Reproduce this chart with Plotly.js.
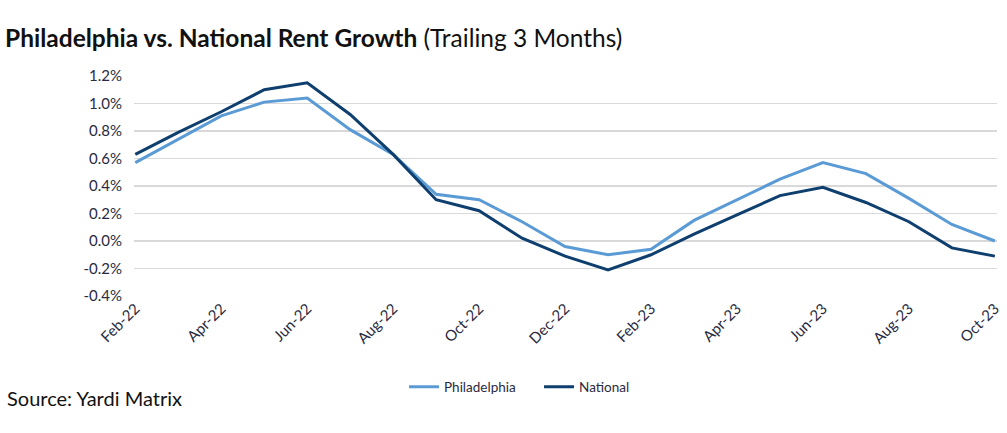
<!DOCTYPE html>
<html>
<head>
<meta charset="utf-8">
<script src="https://cdn.plot.ly/plotly-3.0.1.min.js"></script>
<style>
  html, body { margin: 0; padding: 0; background: #ffffff; }
  #chart { width: 1007px; height: 433px; }
</style>
</head>
<body>
<div id="chart"></div>
<script>
const months = ["Feb-22","Mar-22","Apr-22","May-22","Jun-22","Jul-22","Aug-22","Sep-22","Oct-22","Nov-22","Dec-22",
                "Jan-23","Feb-23","Mar-23","Apr-23","May-23","Jun-23","Jul-23","Aug-23","Sep-23","Oct-23"];
const philadelphia = [0.57, 0.74, 0.91, 1.01, 1.04, 0.81, 0.63, 0.34, 0.30, 0.14, -0.04,
                      -0.10, -0.06, 0.15, 0.30, 0.45, 0.57, 0.49, 0.31, 0.12, 0.00];
const national = [0.63, 0.79, 0.94, 1.10, 1.15, 0.92, 0.63, 0.30, 0.22, 0.02, -0.11,
                  -0.21, -0.10, 0.05, 0.19, 0.33, 0.39, 0.28, 0.14, -0.05, -0.11];
const xTickLabels = ["Feb-22","Apr-22","Jun-22","Aug-22","Oct-22","Dec-22","Feb-23","Apr-23","Jun-23","Aug-23","Oct-23"];
const yTicks = [-0.4, -0.2, 0.0, 0.2, 0.4, 0.6, 0.8, 1.0, 1.2];

const FONT = 'Lato, "Open Sans", sans-serif';

const traces = [
  { x: months, y: philadelphia, name: "Philadelphia", type: "scatter", mode: "lines",
    line: { color: "#5B9BD5", width: 3 } },
  { x: months, y: national, name: "National", type: "scatter", mode: "lines",
    line: { color: "#0E3F6E", width: 3 } }
];

const layout = {
  width: 1007, height: 433,
  paper_bgcolor: "#ffffff", plot_bgcolor: "#ffffff",
  margin: { l: 134, r: 10, t: 76, b: 137 },
  font: { family: FONT, color: "#2a2a40", size: 15 },
  title: {
    text: "<b>Philadelphia vs. National Rent Growth</b> (Trailing 3 Months)",
    font: { family: FONT, size: 24.5, color: "#111111" },
    x: 0.005, xanchor: "left", y: 0.912, yanchor: "middle", xref: "container", yref: "container"
  },
  xaxis: {
    type: "category", range: [-0.03, 20.05],
    tickmode: "array", tickvals: xTickLabels, ticktext: xTickLabels,
    tickangle: -45, showgrid: false, zeroline: false, showline: false, ticks: "",
    tickfont: { family: FONT, size: 15, color: "#2a2a40" }, fixedrange: true
  },
  yaxis: {
    range: [-0.4, 1.2], tickmode: "array", tickvals: yTicks,
    ticktext: yTicks.map(v => v.toFixed(1) + "%"),
    showgrid: true, gridcolor: "#D9D9D9", gridwidth: 1.5, zeroline: false, showline: false,
    ticks: "", ticklabelstandoff: 11,
    tickfont: { family: FONT, size: 15, color: "#2a2a40" }, fixedrange: true
  },
  showlegend: true,
  legend: {
    orientation: "h", x: 0.3129, xanchor: "left", y: -0.413, yanchor: "middle",
    entrywidth: 90, entrywidthmode: "pixels",
    font: { family: FONT, size: 13.5, color: "#2a2a40" }, bgcolor: "rgba(0,0,0,0)"
  },
  annotations: [
    { text: "Source: Yardi Matrix", xref: "paper", yref: "paper", x: -0.1495, y: -0.463,
      xanchor: "left", yanchor: "middle", showarrow: false,
      font: { family: FONT, size: 20, color: "#111111" } }
  ]
};

Plotly.newPlot("chart", traces, layout, { displayModeBar: false, staticPlot: true });
</script>
</body>
</html>
